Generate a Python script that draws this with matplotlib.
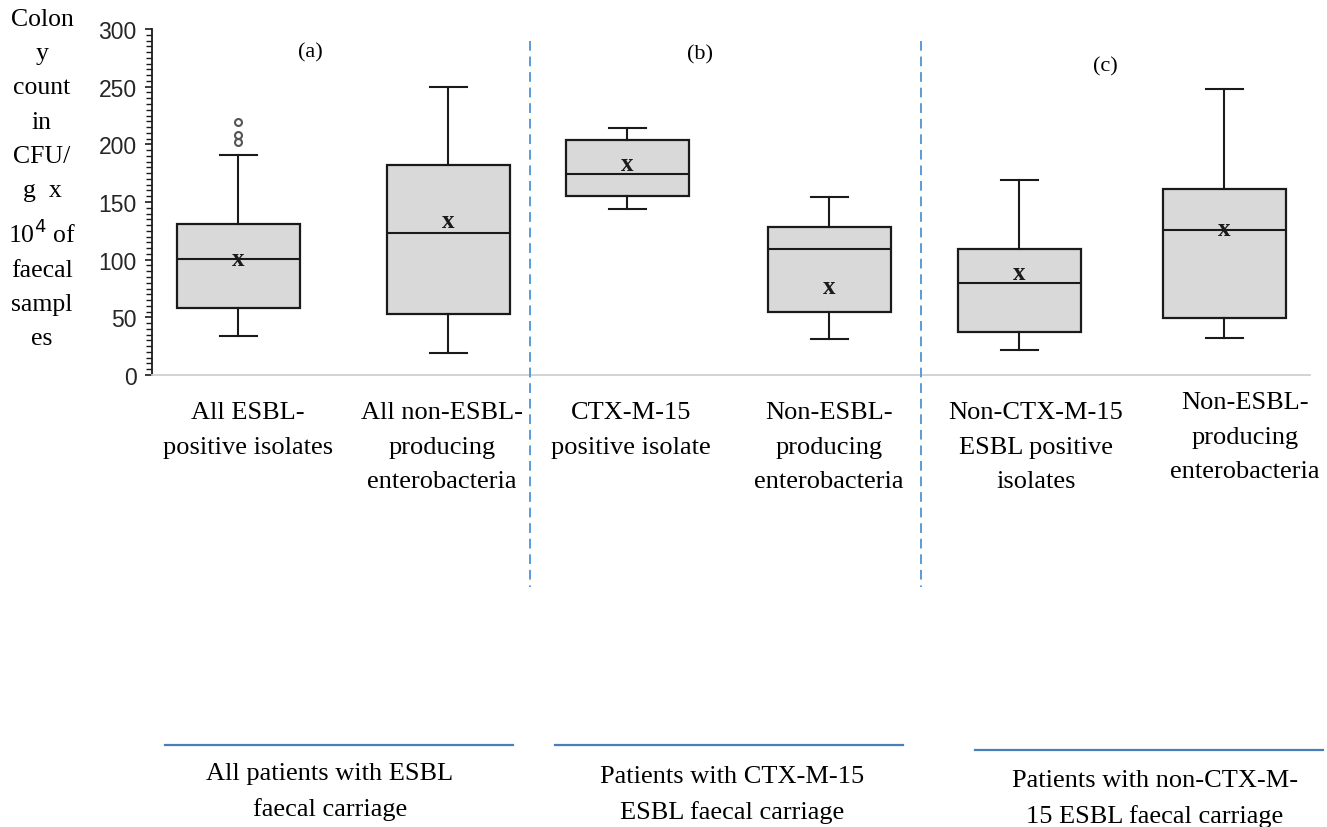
import matplotlib
matplotlib.use("Agg")
import matplotlib.pyplot as plt
from matplotlib.lines import Line2D

# box statistics (CFU/g x 10^4)
cats = ["All ESBL-\npositive isolates",
        "All non-ESBL-\nproducing\nenterobacteria",
        "CTX-M-15\npositive isolate",
        "Non-ESBL-\nproducing\nenterobacteria",
        "Non-CTX-M-15\nESBL positive\nisolates",
        "Non-ESBL-\nproducing\nenterobacteria"]
whislo = [34, 19, 144, 31, 22, 32]
q1 = [58, 53, 155, 55, 37, 49]
med = [101, 123, 174, 109, 80, 126]
q3 = [131, 182, 204, 128, 109, 161]
whishi = [191, 250, 214, 154, 169, 248]
means = [101, 134, 183, 77, 89, 127]
fliers = [[202, 208, 219], [], [], [], [], []]

panels = ["(a)", "(b)", "(c)"]
groups = ["All patients with ESBL\nfaecal carriage",
          "Patients with CTX-M-15\nESBL faecal carriage",
          "Patients with non-CTX-M-\n15 ESBL faecal carriage"]

W, H = 1327, 828
fig = plt.figure(figsize=(W / 100, H / 100), dpi=100)

# axes area in pixels: x 152..1310, y 30..376
ax = fig.add_axes([152 / W, 1 - 376 / H, (1310 - 152) / W, (376 - 30) / H])
ax.set_xlim(152, 1310)
ax.set_ylim(0, 300)

pos = [238, 448, 627, 829, 1019, 1224]
stats = []
for i in range(len(cats)):
    stats.append(dict(whislo=whislo[i], q1=q1[i], med=med[i], q3=q3[i],
                      whishi=whishi[i], fliers=fliers[i]))

ax.bxp(stats, positions=pos, widths=123, patch_artist=True, showcaps=True,
       boxprops=dict(facecolor="#d9d9d9", edgecolor="#1a1a1a", linewidth=1.6),
       medianprops=dict(color="#1a1a1a", linewidth=1.5),
       whiskerprops=dict(color="#1a1a1a", linewidth=1.5),
       capprops=dict(color="#1a1a1a", linewidth=1.5),
       capwidths=37,
       flierprops=dict(marker="o", markersize=5, markerfacecolor="white",
                       markeredgecolor="#555555", markeredgewidth=1.5))

for p, m in zip(pos, means):
    ax.text(p, m, "x", ha="center", va="center", fontsize=18,
            family="Liberation Serif", fontweight="bold", color="#1a1a1a")

ax.spines["top"].set_visible(False)
ax.spines["right"].set_visible(False)
ax.spines["left"].set_color("#1a1a1a")
ax.spines["left"].set_linewidth(1.3)
ax.spines["bottom"].set_color("#d0d0d0")
ax.spines["bottom"].set_linewidth(1.3)
ax.set_xticks([])
ax.set_yticks(range(0, 301, 50))
ax.set_yticks(range(0, 301, 5), minor=True)
ax.tick_params(axis="y", which="major", length=5, width=1.2, color="#1a1a1a",
               labelsize=16.5, labelcolor="#262626", pad=6)
ax.tick_params(axis="y", which="minor", length=4, width=1, color="#1a1a1a")
for lab in ax.get_yticklabels():
    lab.set_family("Liberation Sans")

# y label, wrapped as in the reference
fig.text(42 / W, 1 - 9 / H,
         "Colon\ny\ncount\nin\nCFU/\ng  x\n10$^4$ of\nfaecal\nsampl\nes",
         ha="center", va="top", fontsize=18.5, family="Liberation Serif",
         linespacing=1.72)

# panel letters
for lab, (x, y) in zip(panels, [(310, 53), (700, 55), (1105, 67)]):
    fig.text(x / W, 1 - y / H, lab, ha="center", va="center",
             fontsize=16, family="Liberation Serif")

# category labels under the boxes
lab_xy = [(248, 402), (442, 402), (631, 402), (829, 402), (1036, 402), (1245, 392)]
for txt, (x, y) in zip(cats, lab_xy):
    fig.text(x / W, 1 - y / H, txt, ha="center", va="top", fontsize=19,
             family="Liberation Serif", linespacing=1.75)

# dashed separators between panels
for x in [530, 921]:
    fig.add_artist(Line2D([x / W, x / W], [1 - 42 / H, 1 - 588 / H],
                          transform=fig.transFigure, color="#5b9bd5",
                          linestyle=(0, (5, 3)), linewidth=1.4))

# group lines and captions
for (x0, x1, y), txt, (tx, ty) in zip(
        [(165, 513, 746), (555, 903, 746), (975, 1323, 751)], groups,
        [(330, 763), (732, 766), (1155, 770)]):
    fig.add_artist(Line2D([x0 / W, x1 / W], [1 - y / H, 1 - y / H],
                          transform=fig.transFigure, color="#4a7ebb",
                          linewidth=1.6))
    fig.text(tx / W, 1 - ty / H, txt, ha="center", va="top", fontsize=19,
             family="Liberation Serif", linespacing=1.75)

fig.savefig("out.png", dpi=100)
